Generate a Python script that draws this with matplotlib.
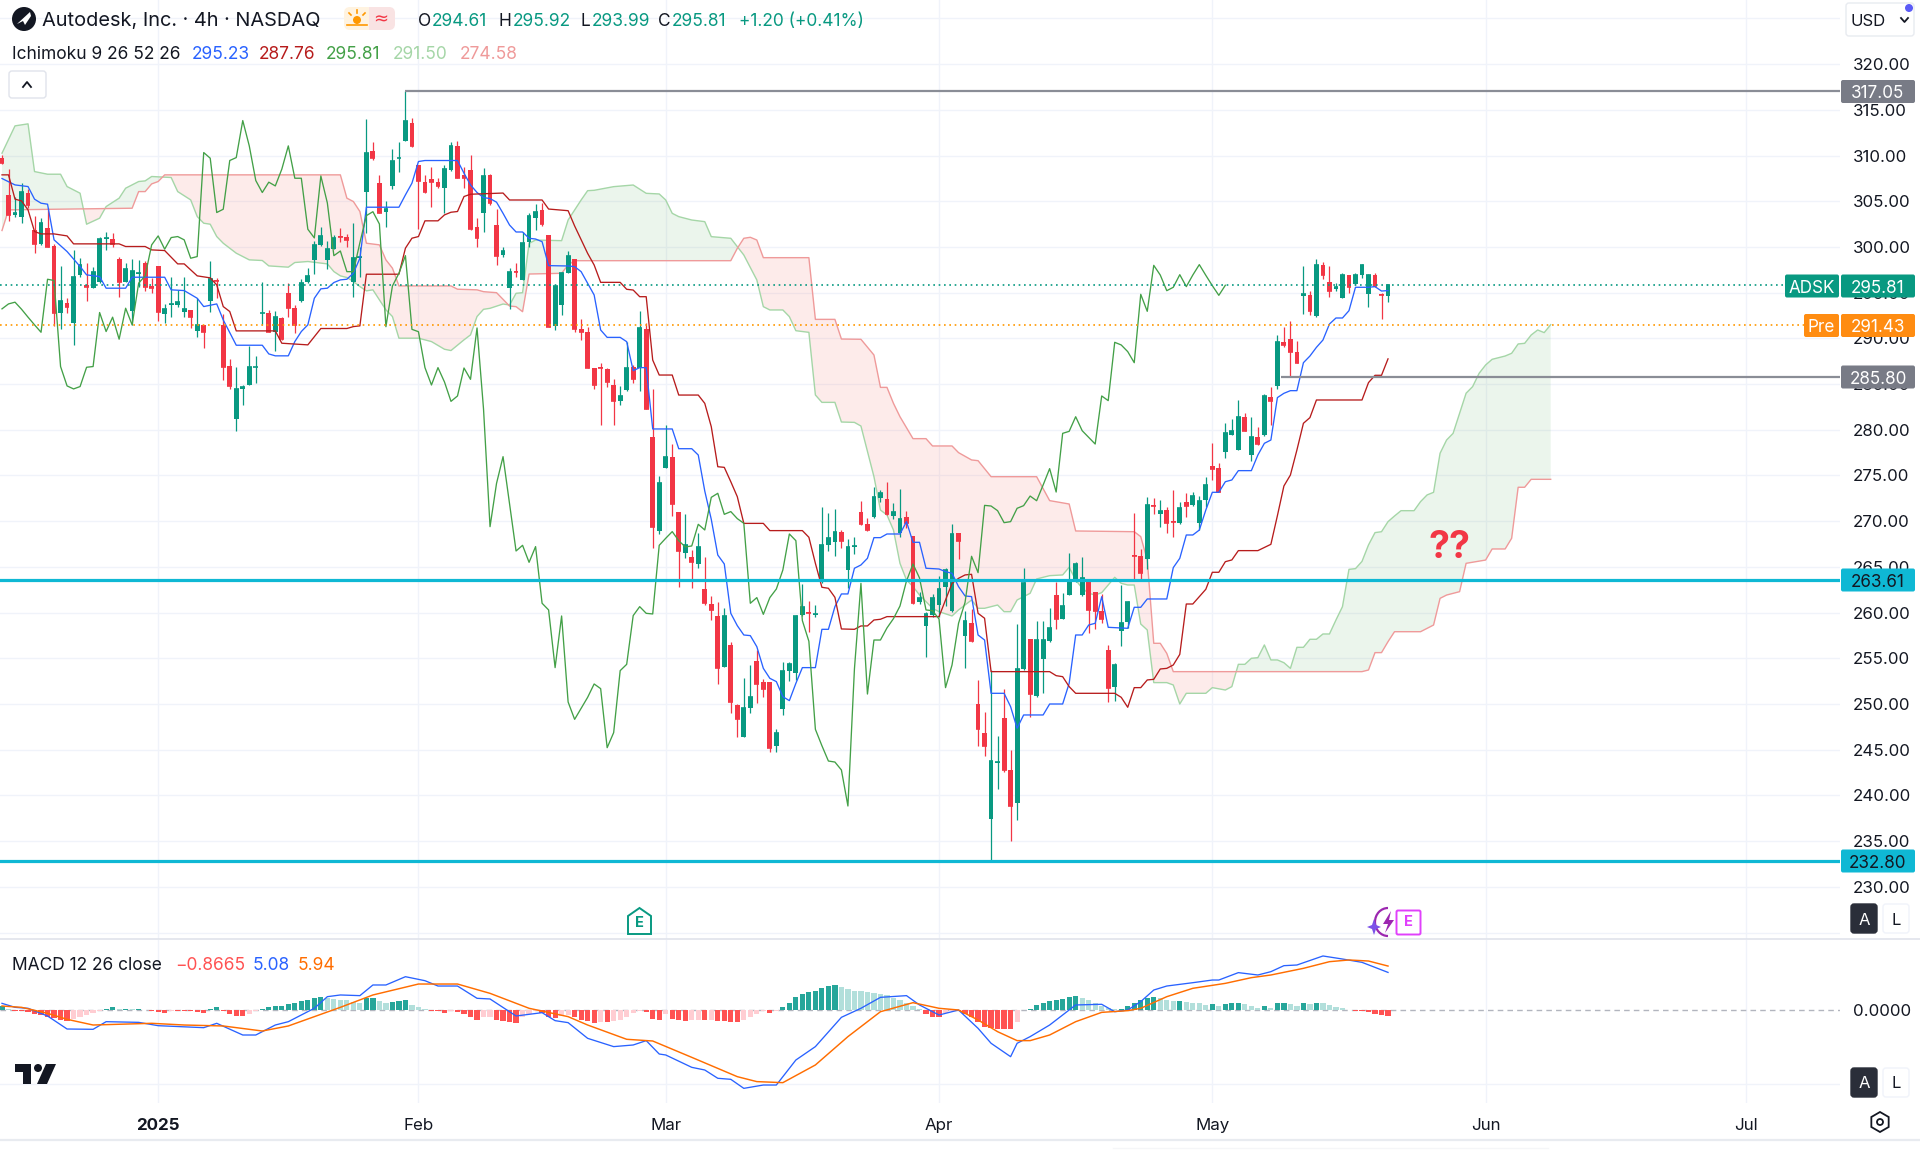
import numpy as np
import matplotlib
matplotlib.use("Agg")
import matplotlib.pyplot as plt
from matplotlib.patches import Circle, FancyBboxPatch, Polygon, Rectangle, RegularPolygon, Arc

plt.rcParams["font.family"] = ["Inter", "DejaVu Sans"]

# ---------- candles (4h bars) ----------
opens = [309.71,305.66,303.48,303.26,305.88,301.87,300.30,302.09,300.12,292.75,
293.92,291.66,296.98,295.82,295.49,296.15,300.89,300.85,298.66,296.22,
293.01,297.09,298.30,295.74,297.93,292.68,293.70,293.70,292.94,293.12,
290.86,291.48,294.10,296.40,291.48,286.99,281.19,284.44,284.91,286.84,
292.75,292.83,290.67,292.21,294.94,293.30,294.07,296.18,298.59,300.23,
298.59,299.79,301.25,301.14,296.22,298.84,306.06,310.48,306.98,303.84,
306.68,309.68,311.64,313.61,308.98,307.16,307.41,307.12,306.43,308.44,
311.10,307.82,308.44,302.16,303.75,307.88,302.40,299.12,295.55,297.41,
296.39,300.51,303.13,304.05,301.27,291.35,293.62,297.19,298.65,290.99,
290.70,286.76,286.90,286.69,284.94,283.18,284.35,286.83,286.72,291.03,
279.25,268.97,275.85,277.06,270.97,266.56,266.12,265.32,262.55,260.94,
259.63,254.09,256.46,249.89,246.43,249.56,254.67,252.37,252.37,245.41,
249.42,253.65,253.43,259.70,260.03,259.74,263.39,267.40,267.69,268.86,
264.66,267.22,270.97,269.66,270.50,272.54,272.43,270.61,268.67,270.43,
268.42,261.13,258.54,259.78,260.83,262.84,260.18,268.68,257.48,258.83,
250.00,246.87,237.42,243.58,248.50,242.78,239.13,253.83,257.08,250.91,
254.96,256.93,261.93,259.34,261.96,263.57,261.89,263.64,262.29,260.21,
255.91,251.82,258.02,258.94,266.27,266.23,265.83,271.77,270.75,271.20,
270.06,269.76,272.06,271.77,269.76,272.32,276.07,275.78,277.53,279.43,
277.79,281.43,277.24,279.25,279.43,283.62,284.79,289.57,289.90,288.55,
294.67,294.75,292.45,298.07,296.13,295.44,294.45,296.93,295.91,296.93,
294.82,296.90,294.82,294.61]
closes = [309.16,303.51,303.69,305.96,304.61,300.30,302.60,300.05,292.75,294.07,
293.48,296.76,298.04,295.67,297.24,300.89,300.99,300.30,296.15,297.57,
297.38,297.20,295.67,295.49,292.94,293.23,293.77,293.96,293.19,292.32,
291.48,290.67,296.47,296.33,286.92,284.80,284.47,284.73,286.84,286.92,
292.83,290.75,292.32,289.91,293.30,291.48,296.04,296.84,300.23,301.21,
299.76,301.03,301.14,300.78,298.77,298.95,310.33,309.71,303.77,304.13,
309.46,309.78,313.83,311.06,307.27,305.96,307.09,306.68,308.51,311.06,
307.52,307.52,301.94,300.99,307.77,304.81,299.05,299.56,297.30,297.30,
300.47,303.43,303.86,302.51,291.28,295.73,297.12,299.05,290.99,290.73,
286.80,284.90,286.80,285.23,283.11,283.70,286.76,285.52,291.14,282.27,
269.40,274.14,277.06,271.88,266.74,267.36,265.50,267.22,261.02,260.29,
253.98,259.63,250.22,248.32,249.53,250.73,252.19,251.68,245.22,246.87,
253.65,254.34,259.67,260.65,259.92,259.85,267.36,268.13,268.86,267.87,
267.18,267.29,269.66,269.04,272.61,273.05,270.75,271.05,270.28,269.77,
261.02,261.64,259.81,261.64,262.58,264.66,268.60,267.87,259.12,256.86,
247.23,245.44,243.76,243.65,242.78,238.84,253.83,263.20,251.09,257.00,
257.00,258.32,259.34,260.72,263.46,265.32,263.79,260.29,260.21,259.30,
251.79,254.27,258.83,261.12,266.16,264.37,271.73,271.66,271.15,269.84,
269.95,271.41,271.70,272.75,272.24,273.96,275.75,273.19,279.61,279.83,
281.43,279.90,279.17,278.44,283.70,283.19,289.57,289.28,288.55,287.34,
294.82,292.96,297.99,296.93,295.22,295.59,296.97,295.66,296.93,298.07,
296.90,295.77,294.71,295.81]
highs = [310.08,308.51,305.44,306.98,306.32,303.40,303.15,304.24,300.30,297.93,
294.39,299.68,298.77,298.30,297.86,301.14,301.65,301.51,298.95,298.22,
298.70,298.59,298.52,296.58,297.93,293.77,296.76,295.31,296.69,293.12,
294.39,291.48,298.52,296.58,292.68,287.72,286.92,284.91,289.22,288.12,
296.15,293.12,293.01,292.39,296.04,293.67,296.47,297.68,300.70,302.16,
300.70,301.32,302.05,301.43,302.67,300.05,314.02,311.46,307.89,305.08,
310.73,311.43,317.05,314.09,308.98,307.82,308.73,307.52,308.98,311.46,
311.64,308.80,310.08,303.15,308.64,307.99,304.15,300.03,297.66,298.21,
301.68,303.68,304.70,304.85,301.27,295.84,297.30,299.60,298.65,292.08,
291.21,286.76,287.27,286.76,285.59,284.79,289.64,287.09,292.99,291.65,
284.50,274.94,280.56,278.41,270.97,270.79,266.85,268.67,266.12,261.82,
261.20,260.47,256.75,250.00,252.88,254.27,255.91,252.70,252.45,247.27,
254.63,254.63,259.74,263.13,261.31,260.80,271.59,270.86,271.30,269.04,
268.02,268.31,272.25,270.35,273.71,273.42,274.33,272.03,273.49,271.16,
268.42,262.29,260.10,262.04,264.04,264.85,269.66,268.68,260.21,260.36,
252.63,249.09,253.72,246.50,251.61,244.97,258.72,264.92,257.08,259.12,
259.08,260.47,263.39,262.11,266.56,265.57,266.12,263.64,262.29,262.00,
256.42,254.45,262.98,261.27,270.86,266.92,272.60,272.50,272.32,271.60,
273.41,272.14,273.12,273.16,272.75,274.80,278.52,276.33,280.78,281.14,
283.26,281.80,281.36,280.34,283.88,284.72,290.37,291.28,291.94,289.75,
297.92,295.22,298.69,298.32,297.92,296.02,297.12,296.97,297.12,298.14,
297.04,297.12,295.00,295.92]
lows = [309.09,302.89,303.33,302.60,304.24,299.39,300.23,299.97,291.37,291.00,
292.75,289.29,296.76,294.07,295.49,296.04,299.68,299.97,294.58,296.22,
291.48,295.67,295.23,295.01,291.95,291.73,292.39,293.41,292.39,291.18,
290.20,289.00,292.94,294.39,285.46,284.44,279.92,282.72,284.91,285.17,
291.48,290.75,288.67,289.84,292.32,290.64,293.99,296.04,297.06,300.12,
297.57,299.76,300.49,300.05,294.58,296.76,301.51,309.53,303.69,302.16,
306.32,308.25,311.54,310.92,301.98,305.88,304.42,306.43,303.77,308.36,
307.52,306.43,301.87,300.05,301.64,304.60,298.03,298.94,293.18,296.68,
296.39,300.03,301.86,302.30,291.21,290.92,292.56,297.12,290.73,289.82,
286.80,284.50,280.56,284.72,280.56,282.75,284.28,285.08,284.21,282.27,
267.11,268.60,275.85,270.57,262.77,265.94,262.66,264.85,260.83,259.19,
252.19,254.01,248.98,246.35,246.43,249.05,250.08,250.73,244.79,244.79,
248.76,252.56,252.63,259.63,257.92,259.48,263.28,266.78,266.19,267.03,
262.66,266.41,269.59,268.97,270.32,272.14,270.68,270.21,268.24,269.22,
260.94,260.94,255.18,259.56,259.48,260.72,260.10,265.83,253.90,256.79,
245.41,244.35,232.80,240.74,242.60,235.05,237.31,253.72,248.54,250.80,
251.24,256.78,258.24,259.34,261.96,263.35,261.82,257.81,258.17,258.83,
250.26,250.36,256.35,258.28,263.64,263.49,264.73,270.79,269.40,268.75,
268.31,269.69,270.49,271.66,269.04,271.59,274.51,273.16,276.88,279.39,
277.79,279.83,276.62,278.37,279.36,280.52,284.43,289.09,285.80,287.27,
292.67,292.59,292.38,296.46,294.56,295.22,294.38,294.93,295.84,296.57,
293.47,295.66,292.16,293.99]

# ---------- ichimoku, read at the bars where the line bends ----------
tenkan_bars = [0,2,4,5,6,7,8,10,12,13,15,16,19,20,25,26,28,30,31,33,34,36,40,41,42,44,45,46,47,48,49,50,51,52,53,54,55,56,61,62,63,64,65,70,71,72,73,74,75,76,
77,78,79,80,81,82,83,84,87,88,89,90,91,92,93,95,96,97,98,99,100,103,104,106,107,108,109,110,111,112,113,114,115,116,117,118,119,120,121,122,123,125,126,127,128,129,130,131,132,133,134,135,136,138,139,140,141,142,144,145,146,147,148,149,150,151,152,154,155,156,157,160,161,163,164,165,166,167,168,169,170,173,174,175,176,179,180,181,182,183,184,185,186,187,188,189,190,192,193,194,195,196,197,198,199,200,201,202,203,204,205,206,207,208,210,211,212,213]
tenkan_vals = [307.49,306.79,306.61,305.23,304.79,304.68,300.78,299.50,297.86,296.95,296.76,295.49,295.49,296.69,296.69,295.31,295.23,294.39,293.48,293.77,292.02,289.25,289.25,288.30,288.09,288.09,289.65,290.75,291.48,294.39,295.42,295.49,296.11,296.40,296.47,297.13,298.77,304.35,304.35,305.70,306.98,309.35,309.46,309.46,308.07,306.79,305.96,305.40,305.30,304.90,
303.68,302.40,301.64,301.64,300.95,300.87,300.58,297.96,297.92,297.85,297.30,296.02,294.75,290.92,290.11,290.11,289.64,286.47,286.80,286.80,280.09,280.09,277.93,277.93,277.24,273.30,270.20,266.30,265.32,259.92,258.57,257.55,257.48,256.27,253.90,252.81,252.45,250.80,250.37,252.26,253.98,253.98,258.17,258.17,260.65,262.04,262.04,264.85,265.21,265.94,268.20,268.20,268.60,268.60,269.95,267.69,267.69,264.85,264.77,264.48,264.30,262.84,261.82,261.75,257.55,257.00,251.17,251.17,249.71,247.34,248.80,248.80,250.00,250.00,252.26,257.55,257.55,258.64,258.83,261.74,258.39,258.28,260.58,260.58,261.49,261.49,264.92,265.94,268.49,268.49,269.03,271.22,273.16,273.16,274.32,274.51,275.53,275.53,277.24,278.52,278.88,283.52,283.99,284.28,284.28,287.34,288.07,289.02,289.82,291.57,292.23,292.23,293.03,295.59,295.59,295.66,295.18,295.23]
kijun_bars = [0,1,2,3,4,5,6,8,10,11,18,19,22,23,25,27,28,30,32,33,34,35,36,42,43,47,49,53,54,55,56,61,62,63,64,65,67,68,69,70,71,72,77,78,83,84,87,88,90,91,92,95,96,97,98,99,100,101,103,104,107,108,109,110,111,112,113,114,117,118,123,124,125,126,127,128,129,131,132,133,134,135,136,144,145,146,147,148,149,150,151,152,161,162,163,164,165,171,172,173,174,175,176,177,178,179,180,181,182,183,185,186,187,188,189,190,193,195,196,197,198,199,200,201,202,209,210,211,212,213]
kijun_vals = [307.89,307.89,305.23,305.04,304.06,301.69,301.43,301.43,301.21,300.34,300.34,300.05,300.05,299.68,299.61,298.15,298.15,296.84,296.62,295.85,293.48,292.94,290.82,290.82,289.47,289.29,291.08,291.08,291.29,291.37,297.02,297.02,299.87,300.96,301.14,302.86,302.86,303.51,303.80,303.88,305.52,305.77,305.90,305.14,305.14,304.15,303.97,302.30,299.30,298.03,296.13,296.13,295.37,295.29,294.56,294.56,287.63,285.99,285.99,283.80,283.80,282.89,280.34,275.96,275.89,274.32,272.68,269.76,269.76,268.97,268.97,268.24,265.39,262.77,262.66,261.67,258.21,258.17,258.54,258.54,259.19,259.27,259.56,259.56,261.38,263.20,263.75,264.12,264.19,259.92,259.38,253.54,253.54,253.10,252.99,251.90,251.17,251.17,250.73,249.64,251.79,251.79,252.63,252.70,253.83,253.90,254.27,255.43,260.94,260.94,262.55,264.41,264.41,265.57,265.76,266.78,266.78,267.47,270.60,273.85,275.05,277.79,280.71,281.33,283.26,283.26,285.16,285.96,285.96,287.76]
span_a_bars = [0,2,4,5,7,9,10,12,13,15,16,18,19,21,22,23,26,27,29,30,31,32,33,34,36,38,40,41,44,45,47,50,51,52,53,54,55,56,57,59,60,61,64,66,68,69,71,72,73,74,75,77,78,79,80,81,82,86,87,88,89,90,91,94,97,99,101,102,103,104,106,108,109,112,114,116,117,118,120,121,122,124,125,126,128,129,131,132,134,135,136,137,138,139,140,141,143,144,146,147,149,150,151,153,154,155,156,158,159,161,163,164,165,166,167,168,169,170,171,172,173,174,175,176,177,179,180,181,182,185,186,188,189,190,191,192,193,194,195,196,197,198,199,200,201,202,203,204,205,206,207,208,209,210,211,212,213,214,215,217,218,219,220,221,222,223,224,225,226,227,228,229,230,231,232,233,234,235,236,237,238]
span_a_vals = [310.26,313.25,313.47,308.25,307.96,307.96,306.61,305.88,302.49,303.15,304.42,305.34,306.43,307.16,307.23,307.71,307.60,306.06,305.15,303.33,302.60,302.49,301.14,300.41,299.32,298.59,298.52,297.93,297.79,298.30,298.41,298.15,297.31,296.84,296.66,296.22,295.67,295.20,295.31,293.12,292.39,290.02,290.02,289.65,288.81,288.67,289.84,290.38,292.39,293.18,293.29,293.76,293.65,294.93,295.00,300.40,300.76,300.69,302.95,304.05,305.14,306.16,306.20,306.60,306.78,305.87,305.80,305.14,303.68,303.32,302.95,302.77,301.13,300.95,299.12,296.39,293.47,293.11,293.11,292.38,290.84,290.66,283.81,283.00,283.00,280.85,280.81,280.41,274.87,271.22,270.68,269.03,265.39,263.57,262.84,261.93,260.47,260.10,259.63,260.29,261.38,260.47,260.47,260.83,260.10,260.10,261.38,262.11,263.68,264.04,264.12,264.96,263.57,262.66,262.11,261.93,262.18,263.02,263.86,263.20,263.02,263.02,258.75,258.10,252.34,252.34,252.08,250.00,251.17,251.17,251.79,251.53,251.90,254.34,254.34,255.00,255.07,256.46,254.82,254.82,254.52,253.90,256.20,256.20,257.08,257.08,257.66,257.66,259.19,260.65,264.73,264.81,265.60,267.40,268.75,268.85,269.95,270.57,271.15,271.15,272.14,272.87,273.16,277.43,278.88,279.61,281.80,284.00,284.72,286.18,287.09,287.71,287.89,288.07,288.37,289.39,289.46,290.37,290.92,290.63,291.50]
span_b_bars = [0,1,20,21,22,23,24,25,52,53,54,55,56,58,59,60,61,69,70,73,74,76,78,79,80,81,86,87,88,112,113,114,115,116,117,124,125,128,129,132,134,135,136,137,138,140,142,143,146,147,149,150,152,159,161,164,165,174,175,176,177,178,179,180,209,210,211,212,213,214,218,220,221,222,224,225,228,229,231,232,233,234,235,238]
span_b_vals = [301.80,304.06,304.24,306.06,306.06,306.90,307.16,307.89,307.89,305.34,304.97,303.88,300.41,300.23,298.59,297.68,295.74,295.74,295.38,295.31,295.11,295.00,293.54,293.47,292.92,297.04,297.12,298.03,298.50,298.50,299.85,300.95,301.06,300.76,298.83,298.83,292.08,292.08,289.93,289.90,288.18,284.64,284.64,282.89,281.43,279.03,279.03,278.23,278.23,277.50,276.70,276.62,274.87,274.87,272.25,271.88,268.93,268.85,268.31,265.76,256.64,256.64,255.54,253.54,253.54,253.72,255.62,255.62,256.82,257.91,257.91,258.64,261.56,261.92,262.29,265.39,265.75,266.96,266.96,268.13,273.71,273.71,274.58,274.58]

# ---------- macd pane ----------
hist = [0.5,0.1,-0.2,-0.2,-0.3,-0.5,-0.7,-0.9,-1.1,-1.4,-1.5,-1.2,-1.0,-0.7,-0.4,-0.2,0.1,0.4,0.2,0.2,
0.1,0.1,0.0,-0.1,-0.3,-0.4,-0.1,-0.1,-0.1,-0.2,-0.3,-0.4,0.2,0.4,-0.1,-0.5,-0.8,-0.8,-0.6,-0.1,
0.2,0.4,0.5,0.6,0.8,1.0,1.2,1.4,1.6,1.8,1.6,1.5,1.4,1.3,1.1,1.0,1.6,1.6,1.2,1.0,
1.1,1.2,1.3,0.7,0.4,0.1,-0.1,-0.2,-0.4,-0.1,-0.3,-0.6,-1.0,-1.4,-1.0,-0.9,-1.4,-1.5,-1.6,-1.7,
-1.0,-0.5,-0.2,-0.4,-1.0,-1.1,-0.8,-0.7,-1.0,-1.3,-1.5,-1.7,-1.6,-1.6,-1.5,-1.3,-0.9,-0.4,-0.1,-0.3,
-1.2,-1.3,-0.5,-1.2,-1.4,-1.5,-1.4,-1.3,-1.4,-1.3,-1.5,-1.5,-1.6,-1.6,-1.3,-1.0,-0.6,-0.2,-0.4,-0.1,
0.4,1.0,1.7,2.2,2.4,2.5,3.0,3.3,3.4,3.1,2.9,2.6,2.5,2.4,2.3,2.2,2.0,1.6,1.3,0.9,
0.5,0.1,-0.6,-0.9,-0.9,-0.4,-0.1,-0.1,-0.5,-1.0,-1.6,-2.3,-2.5,-2.6,-2.6,-2.6,-1.6,0.0,0.1,0.7,
0.9,1.2,1.3,1.5,1.7,1.9,1.6,1.3,1.0,0.6,0.3,0.1,0.1,0.5,0.9,1.3,1.6,1.7,1.6,1.3,
1.2,1.2,1.1,1.0,0.9,0.7,0.8,0.5,0.8,0.9,1.0,0.8,0.5,0.3,0.5,0.3,0.9,1.0,0.8,0.5,
0.9,0.8,1.0,0.9,0.7,0.4,0.3,0.0,-0.1,-0.2,-0.3,-0.5,-0.7,-0.8665]
macd_bars = [0,2,4,7,10,14,16,21,24,31,33,37,39,42,44,48,50,52,55,57,59,62,65,67,70,73,75,79,83,85,87,90,94,97,99,101,102,106,108,110,112,114,117,119,122,125,129,132,135,139,141,144,147,150,152,155,156,158,161,165,169,171,173,175,177,179,183,186,187,190,193,195,197,199,203,206,209,213]
macd_vals = [0.90,0.36,0.23,-0.81,-2.57,-2.61,-1.58,-1.67,-2.12,-2.39,-1.80,-3.38,-3.38,-2.03,-1.58,0.23,1.80,2.03,1.94,3.38,3.38,4.50,3.96,3.24,3.24,1.58,1.49,-0.81,-0.36,-1.44,-1.71,-3.83,-4.95,-4.73,-4.14,-5.95,-6.08,-7.75,-8.11,-9.23,-9.37,-10.59,-10.14,-10.14,-6.76,-4.95,-0.99,0.23,1.71,1.94,0.68,-0.68,0.0,-2.48,-4.50,-6.31,-4.50,-3.60,-2.03,0.68,0.77,-0.23,0.0,1.13,2.70,3.24,3.69,4.05,4.05,5.05,4.73,5.18,5.99,6.08,7.30,6.89,6.44,5.08]
signal_bars = [0,3,7,10,14,23,28,34,40,44,48,52,57,64,70,75,81,87,90,96,100,106,113,116,120,125,130,135,140,144,147,150,153,156,158,161,165,169,173,175,179,183,188,192,195,200,204,207,210,213]
signal_vals = [0.54,0.36,-0.45,-1.26,-2.03,-1.80,-2.03,-2.16,-2.84,-2.16,-0.90,0.36,2.03,3.51,3.51,2.25,0.23,-0.90,-2.03,-3.96,-4.19,-6.40,-9.01,-9.68,-9.82,-7.43,-3.60,-0.23,0.99,0.23,0.0,-1.35,-2.93,-4.14,-4.14,-3.38,-1.58,-0.32,-0.09,0.23,1.80,2.93,3.60,4.37,4.73,5.63,6.53,6.76,6.62,5.94]

month_ticks = [24, 64, 102, 144, 186, 228, 268]
month_labels = ["2025", "Feb", "Mar", "Apr", "May", "Jun", "Jul"]
price_ticks = list(range(225, 330, 5))

last_close = 295.81
pre_price = 291.43
swing_high = 317.05
swing_low = 285.80
cyan_levels = [263.61, 232.80]

GREEN = "#089981"
RED = "#f23645"
TXT = "#131722"
GRID = "#f0f3fa"
W, H = 1920, 1151

fig = plt.figure(figsize=(W / 100, H / 100), dpi=100, facecolor="white")
ax = fig.add_axes([0, 1 - 939 / H, 1840 / W, 939 / H])
ax2 = fig.add_axes([0, 1 - 1103 / H, 1840 / W, 163 / H])

# ---------- price pane ----------
bars = np.arange(len(opens))
o, c = np.array(opens), np.array(closes)
up = c >= o

grid_bars = np.arange(0, 239)
a_line = np.interp(grid_bars, span_a_bars, span_a_vals)
b_line = np.interp(grid_bars, span_b_bars, span_b_vals)
ax.fill_between(grid_bars, a_line, b_line, where=a_line >= b_line, interpolate=True, color="#43a047", alpha=0.10, lw=0, zorder=1)
ax.fill_between(grid_bars, a_line, b_line, where=a_line < b_line, interpolate=True, color="#f44336", alpha=0.10, lw=0, zorder=1)
ax.plot(span_a_bars, span_a_vals, color="#a5d6a7", lw=1.0, zorder=2)
ax.plot(span_b_bars, span_b_vals, color="#ef9a9a", lw=1.0, zorder=2)

ax.vlines(bars[up], np.array(lows)[up], np.array(highs)[up], color=GREEN, lw=0.9, zorder=3)
ax.vlines(bars[~up], np.array(lows)[~up], np.array(highs)[~up], color=RED, lw=0.9, zorder=3)
ax.bar(bars[up], (c - o)[up], bottom=o[up], width=0.74, color=GREEN, lw=0, zorder=3)
ax.bar(bars[~up], (o - c)[~up], bottom=c[~up], width=0.74, color=RED, lw=0, zorder=3)
# doji bodies would vanish otherwise
ax.hlines(c, bars - 0.37, bars + 0.37, colors=[GREEN if u else RED for u in up], lw=1.2, zorder=3)

ax.plot(tenkan_bars, tenkan_vals, color="#2962ff", lw=0.95, zorder=4)
ax.plot(kijun_bars, kijun_vals, color="#b71c1c", lw=0.95, zorder=4)
# lagging span: the closes pushed back 25 bars
ax.plot(bars[:-25], closes[25:], color="#43a047", lw=0.95, zorder=4)

for lvl in cyan_levels:
    ax.axhline(lvl, color="#0fb8d4", lw=2.3, zorder=5)
ax.axhline(last_close, color=GREEN, lw=1.2, ls=(0, (1, 2.2)), zorder=5)
ax.axhline(pre_price, color="#ff9800", lw=1.2, ls=(0, (1, 2.2)), zorder=5)
ax.hlines(swing_high, 62, 283, color="#8a8d96", lw=1.6, zorder=5)
ax.hlines(swing_low, 196.5, 283, color="#8a8d96", lw=1.6, zorder=5)

ax.set_xlim(-0.307, 282.46)
ax.set_ylim(224.29, 327.02)
ax.set_yticks(price_ticks)
ax.set_yticklabels([f"{p:.2f}" if 230 <= p <= 320 else "" for p in price_ticks])
ax.yaxis.tick_right()
ax.set_xticks(month_ticks)
ax.set_xticklabels([])
ax.tick_params(axis="both", length=0)
ax.tick_params(axis="y", pad=9.5, labelsize=12.2, labelcolor=TXT)
ax.grid(True, color=GRID, lw=1.0, zorder=0)
ax.set_axisbelow(True)
for s in ax.spines.values():
    s.set_visible(False)

# ---------- macd pane ----------
h = np.array(hist)
prev = np.r_[h[0], h[:-1]]
hist_colors = []
for cur, p in zip(h, prev):
    if cur >= 0:
        hist_colors.append("#26a69a" if cur >= p else "#b2dfdb")
    else:
        hist_colors.append("#ff5252" if cur <= p else "#ffcdd2")
ax2.bar(np.arange(len(h)), h, width=0.8, color=hist_colors, lw=0, zorder=2)
ax2.axhline(0, color="#b2b5be", lw=1.0, ls=(0, (4, 3)), zorder=1)
ax2.axhline(-10, color=GRID, lw=1.0, zorder=0)
ax2.plot(macd_bars, macd_vals, color="#2962ff", lw=0.95, zorder=3)
ax2.plot(signal_bars, signal_vals, color="#ff6d00", lw=1.05, zorder=3)
ax2.set_xlim(-0.307, 282.46)
ax2.set_ylim(-12.57, 9.46)
ax2.set_yticks([0])
ax2.set_yticklabels(["0.0000"])
ax2.yaxis.tick_right()
ax2.set_xticks(month_ticks)
ax2.set_xticklabels(month_labels)
ax2.get_xticklabels()[0].set_fontweight("bold")
ax2.tick_params(axis="both", length=0, labelsize=12.2, labelcolor=TXT)
ax2.tick_params(axis="y", pad=9.5)
ax2.tick_params(axis="x", pad=11)
ax2.grid(True, axis="x", color=GRID, lw=1.0, zorder=0)
ax2.set_axisbelow(True)
for s in ax2.spines.values():
    s.set_visible(False)

# ---------- overlay in pixel coordinates: header, labels, buttons ----------
ov = fig.add_axes([0, 0, 1, 1], zorder=10)
ov.set_xlim(0, W)
ov.set_ylim(H, 0)
ov.axis("off")


def label_box(x0, x1, yc, color, text, tc="white", h=23):
    ov.add_patch(FancyBboxPatch((x0 + 2, yc - h / 2 + 2), x1 - x0 - 4, h - 4, boxstyle="round,pad=2", fc=color, ec="none", zorder=3))
    ov.text((x0 + x1) / 2, yc, text, color=tc, fontsize=12.3, ha="center", va="center_baseline", zorder=4)


def btn(x0, y0, x1, y1, fc, ec, text=None, tc=TXT, fs=12):
    ov.add_patch(FancyBboxPatch((x0 + 3, y0 + 3), x1 - x0 - 6, y1 - y0 - 6, boxstyle="round,pad=3", fc=fc, ec=ec, lw=1.0, zorder=3))
    if text:
        ov.text((x0 + x1) / 2, (y0 + y1) / 2, text, color=tc, fontsize=fs, ha="center", va="center_baseline", zorder=4)


label_box(1841, 1915, 91.5, "#787b86", "317.05")
label_box(1785, 1839, 286, GREEN, "ADSK")
label_box(1841, 1915, 286, GREEN, "295.81")
label_box(1804, 1839, 325.5, "#ff8c11", "Pre")
label_box(1841, 1915, 325.5, "#ff8c11", "291.43")
label_box(1841, 1915, 377, "#787b86", "285.80")
label_box(1841, 1915, 580, "#0fb8d4", "263.61", tc=TXT)
label_box(1841, 1915, 861, "#0fb8d4", "232.80", tc=TXT)

# header
ov.add_patch(Circle((24, 19), 12, fc=TXT, ec="none"))
ov.add_patch(Polygon([(17, 24), (30, 12), (31, 16), (25, 25), (23, 21)], fc="white", ec="none"))
ov.text(42, 19, "Autodesk, Inc. · 4h · NASDAQ", fontsize=14.4, color=TXT, va="center_baseline")
ov.add_patch(FancyBboxPatch((350, 13), 18, 11, boxstyle="round,pad=6", fc="#fff3e0", ec="none"))
ov.add_patch(Rectangle((369, 7), 14, 23, fc="#f9e3e3", ec="none"))
ov.add_patch(FancyBboxPatch((376, 13), 13, 11, boxstyle="round,pad=6", fc="#f9e3e3", ec="none"))
ov.add_patch(Circle((357, 20), 4, fc="#ff9800", ec="none"))
for x0, y0, x1, y1 in [(357, 10, 357, 13), (349, 13, 351, 15), (365, 13, 363, 15), (347, 25, 367, 25)]:
    ov.plot([x0, x1], [y0, y1], color="#ff9800", lw=1.2)
ov.text(381, 19, "≈", color="#f23645", fontsize=13, ha="center", va="center", family="DejaVu Sans")

row1 = [(418, "O", TXT), (432, "294.61", GREEN), (499, "H", TXT), (513, "295.92", GREEN), (580, "L", TXT), (592, "293.99", GREEN), (658, "C", TXT), (672, "295.81", GREEN), (739, "+1.20 (+0.41%)", GREEN)]
for x, s, col in row1:
    ov.text(x, 19, s, color=col, fontsize=12.5, va="center_baseline")
row2 = [(12, "Ichimoku 9 26 52 26", TXT), (192, "295.23", "#2962ff"), (259, "287.76", "#b71c1c"), (326, "295.81", "#43a047"), (393, "291.50", "#a5d6a7"), (460, "274.58", "#ef9a9a")]
for x, s, col in row2:
    ov.text(x, 52, s, color=col, fontsize=12.5, va="center_baseline")
row3 = [(12, "MACD 12 26 close", TXT), (175, "−0.8665", "#ff5252"), (253, "5.08", "#2962ff"), (298, "5.94", "#ff6d00")]
for x, s, col in row3:
    ov.text(x, 963, s, color=col, fontsize=12.5, va="center_baseline")

# buttons
btn(9, 71, 46, 98, "white", "#e0e3eb")
ov.plot([23, 27, 31], [87, 82, 87], color=TXT, lw=1.3, zorder=5)
btn(1846, 3, 1914, 36, "white", "#e8ebf0", None)
ov.text(1851, 20, "USD", fontsize=12, color=TXT, va="center_baseline", zorder=5)
ov.plot([1901, 1904.5, 1908], [18, 22, 18], color=TXT, lw=1.3, zorder=5)
ov.add_patch(Circle((1909, 8), 4, fc="#5b5bf6", ec="none", zorder=5))
for y0 in (904, 1068):
    btn(1851, y0, 1877, y0 + 29, "#2a2e39", "#2a2e39", "A", tc="white", fs=12)
    btn(1883, y0, 1909, y0 + 29, "white", "#f0f3fa", "L", tc=TXT, fs=12)

# earnings tags
ov.add_patch(Polygon([(628, 916), (639.5, 908), (651, 916), (651, 934), (628, 934)], closed=True, fc="white", ec=GREEN, lw=1.4))
ov.text(639.5, 923, "E", color=GREEN, fontsize=10.5, fontweight="bold", ha="center", va="center")
ov.add_patch(Arc((1388, 922), 26, 28, theta1=90, theta2=270, color="#9c27b0", lw=1.6))
ov.add_patch(Polygon([(1391, 911), (1383, 924), (1388, 924), (1385, 933), (1394, 920), (1389, 920)], fc="#9c27b0", ec="none"))
ov.add_patch(Polygon([(1374, 919), (1376, 925), (1381, 927), (1376, 929), (1374, 935), (1372, 929), (1367, 927), (1372, 925)], fc="#7b52e8", ec="none"))
ov.add_patch(FancyBboxPatch((1398, 912), 21, 21, boxstyle="round,pad=1.5", fc="white", ec="#e040fb", lw=1.4))
ov.text(1408.5, 922, "E", color="#e040fb", fontsize=10.5, fontweight="bold", ha="center", va="center")

# annotation on the cloud
ov.text(1449, 548, "??", color=RED, fontsize=27, fontweight="bold", ha="center", va="center")

# tradingview mark
ov.add_patch(Polygon([(15, 1064), (31, 1064), (31, 1084), (23, 1084), (23, 1072), (15, 1072)], fc=TXT, ec="none"))
ov.add_patch(Circle((38, 1068), 4, fc=TXT, ec="none"))
ov.add_patch(Polygon([(46, 1064), (56, 1064), (47, 1084), (37, 1084)], fc=TXT, ec="none"))

# settings icon
ov.add_patch(RegularPolygon((1880, 1122), 6, radius=10, orientation=0, fc="white", ec=TXT, lw=1.3))
ov.add_patch(Circle((1880, 1122), 3, fc="white", ec=TXT, lw=1.3))

# pane separators and bottom strip
ov.plot([0, W], [939, 939], color="#e0e3eb", lw=1.2)
ov.plot([0, W], [1140, 1140], color="#e8ebf0", lw=1.6)
ov.plot([1113, 1548], [1148, 1148], color="#f5f6f8", lw=1.0)

fig.savefig("out.png", dpi=100)
